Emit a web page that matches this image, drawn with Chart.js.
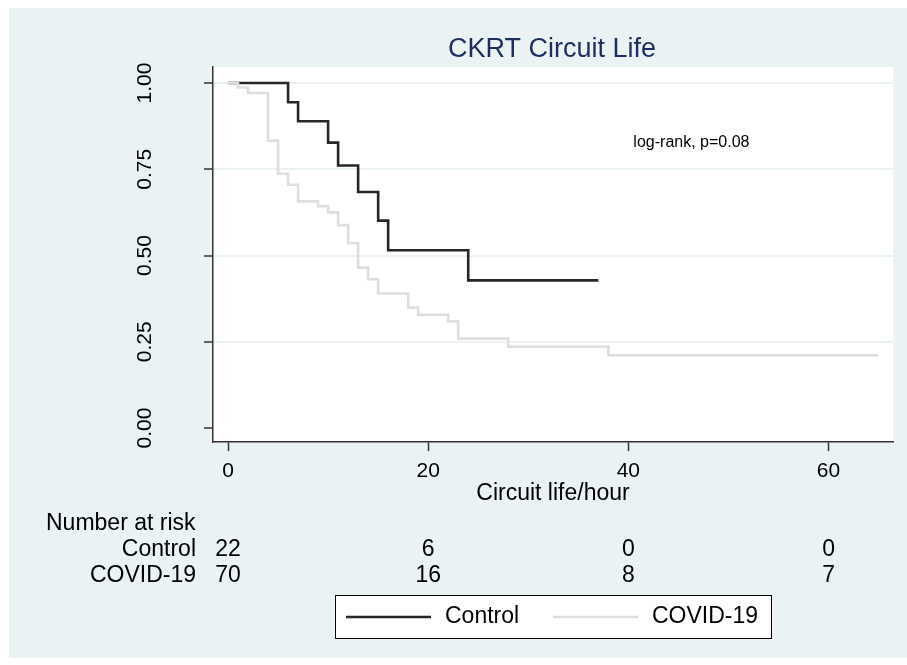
<!DOCTYPE html>
<html>
<head>
<meta charset="utf-8">
<title>CKRT Circuit Life</title>
<script src="https://cdn.jsdelivr.net/npm/chart.js@4.4.1/dist/chart.umd.min.js"></script>
<style>
  html, body { margin: 0; padding: 0; background: #ffffff; }
  canvas { display: block; }
</style>
</head>
<body>
<canvas id="kmChart" width="907" height="665"></canvas>
<script>
// Kaplan-Meier steps
var controlTime = [0, 6, 7, 10, 11, 13, 15, 16, 24, 37];
var controlSurv = [1, 0.944, 0.889, 0.827, 0.761, 0.684, 0.601, 0.515, 0.428, 0.428];
var covidTime = [0, 1, 2, 4, 5, 6, 7, 9, 10, 11, 12, 13, 14, 15, 18, 19, 22, 23, 28, 38, 65];
var covidSurv = [1, 0.987, 0.971, 0.833, 0.737, 0.705, 0.657, 0.643, 0.625, 0.588, 0.536, 0.465, 0.431, 0.390, 0.349, 0.328, 0.309, 0.259, 0.236, 0.211, 0.211];

var yTicks = [0, 0.25, 0.5, 0.75, 1];
var xTicks = [0, 20, 40, 60];

// number at risk table
var riskTimes = [0, 20, 40, 60];
var controlAtRisk = [22, 6, 0, 0];
var covidAtRisk = [70, 16, 8, 7];

var FONT = '"Liberation Sans", Arial, sans-serif';

function toPoints(xs, ys) {
    var pts = [];
    for (var i = 0; i < xs.length; i++) {
        pts.push({ x: xs[i], y: ys[i] });
    }
    return pts;
}

var stataDecor = {
    id: 'stataDecor',
    beforeDraw: function (chart) {
        var c = chart.ctx, a = chart.chartArea;
        c.save();
        c.fillStyle = '#ffffff';
        c.fillRect(0, 0, chart.width, chart.height);
        c.fillStyle = '#eaf2f3';
        c.fillRect(9, 8, chart.width - 9, 650);
        c.fillStyle = '#ffffff';
        c.fillRect(a.left, a.top, a.right - a.left, a.bottom - a.top);
        c.restore();
    },
    afterDraw: function (chart) {
        var c = chart.ctx, a = chart.chartArea;
        var xs = chart.scales.x, ys = chart.scales.y;
        c.save();

        // title
        c.fillStyle = '#1c2e5e';
        c.font = '27px ' + FONT;
        c.textAlign = 'center';
        c.textBaseline = 'middle';
        c.fillText('CKRT Circuit Life', 552, 50);

        // y tick labels, rotated like Stata
        c.fillStyle = '#000000';
        c.font = '21px ' + FONT;
        yTicks.forEach(function (v) {
            c.save();
            c.translate(145, ys.getPixelForValue(v));
            c.rotate(-Math.PI / 2);
            c.textAlign = 'center';
            c.textBaseline = 'middle';
            c.fillText(v.toFixed(2), 0, 0);
            c.restore();
        });

        // x axis title
        c.font = '23px ' + FONT;
        c.textAlign = 'center';
        c.textBaseline = 'middle';
        c.fillText('Circuit life/hour', (a.left + a.right) / 2, 494);

        // annotation
        c.font = '16px ' + FONT;
        c.textAlign = 'left';
        c.fillText('log-rank, p=0.08', xs.getPixelForValue(40.5), ys.getPixelForValue(0.828));

        // number at risk
        c.font = '23px ' + FONT;
        c.textAlign = 'left';
        c.fillText('Number at risk', 46, 524);
        c.textAlign = 'right';
        c.fillText('Control', 196, 550);
        c.fillText('COVID-19', 196, 576);
        c.textAlign = 'center';
        riskTimes.forEach(function (t, i) {
            var px = xs.getPixelForValue(t);
            c.fillText(String(controlAtRisk[i]), px, 550);
            c.fillText(String(covidAtRisk[i]), px, 576);
        });

        // legend box
        c.fillStyle = '#ffffff';
        c.fillRect(335, 595, 437, 44);
        c.strokeStyle = '#000000';
        c.lineWidth = 1;
        c.strokeRect(335.5, 595.5, 436, 43);
        var items = [
            { ds: chart.data.datasets[0], x: 346 },
            { ds: chart.data.datasets[1], x: 553 }
        ];
        items.forEach(function (it) {
            c.strokeStyle = it.ds.borderColor;
            c.lineWidth = it.ds.borderWidth;
            c.beginPath();
            c.moveTo(it.x, 617);
            c.lineTo(it.x + 85, 617);
            c.stroke();
            c.fillStyle = '#000000';
            c.textAlign = 'left';
            c.fillText(it.ds.label, it.x + 99, 617);
        });

        c.restore();
    }
};

var ctx = document.getElementById('kmChart');
var kmChart = new Chart(ctx, {
    type: 'line',
    data: {
        datasets: [{
            label: 'Control',
            data: toPoints(controlTime, controlSurv),
            borderColor: '#262626',
            borderWidth: 2.6,
            stepped: 'before',
            pointRadius: 0,
            fill: false,
            order: 1
        }, {
            label: 'COVID-19',
            data: toPoints(covidTime, covidSurv),
            borderColor: '#dedede',
            borderWidth: 2.6,
            stepped: 'before',
            pointRadius: 0,
            fill: false,
            order: 0
        }]
    },
    options: {
        responsive: false,
        animation: false,
        devicePixelRatio: 1,
        layout: { padding: { top: 67, right: 14, bottom: 0, left: 0 } },
        plugins: {
            legend: { display: false },
            tooltip: { enabled: false }
        },
        scales: {
            x: {
                type: 'linear',
                min: -1.5,
                max: 66.44,
                afterBuildTicks: function (scale) {
                    scale.ticks = xTicks.map(function (v) { return { value: v }; });
                },
                afterFit: function (scale) { scale.height = 223; },
                grid: {
                    drawOnChartArea: false,
                    drawTicks: true,
                    tickLength: 9,
                    tickColor: '#333333',
                    tickWidth: 1.5
                },
                border: { color: '#333333', width: 1.5 },
                ticks: {
                    color: '#000000',
                    font: { family: FONT, size: 21 },
                    padding: 8,
                    maxRotation: 0
                }
            },
            y: {
                type: 'linear',
                min: -0.0405,
                max: 1.0463,
                afterBuildTicks: function (scale) {
                    scale.ticks = yTicks.map(function (v) { return { value: v }; });
                },
                afterFit: function (scale) { scale.width = 213; },
                grid: {
                    color: function (c) { return c.tick && c.tick.value === 0 ? 'rgba(0,0,0,0)' : '#eaf2f3'; },
                    lineWidth: 2,
                    drawTicks: true,
                    tickLength: 9,
                    tickColor: '#333333',
                    tickWidth: 1.5
                },
                border: { color: '#333333', width: 1.5 },
                ticks: { display: false }
            }
        }
    },
    plugins: [stataDecor]
});
</script>
</body>
</html>
